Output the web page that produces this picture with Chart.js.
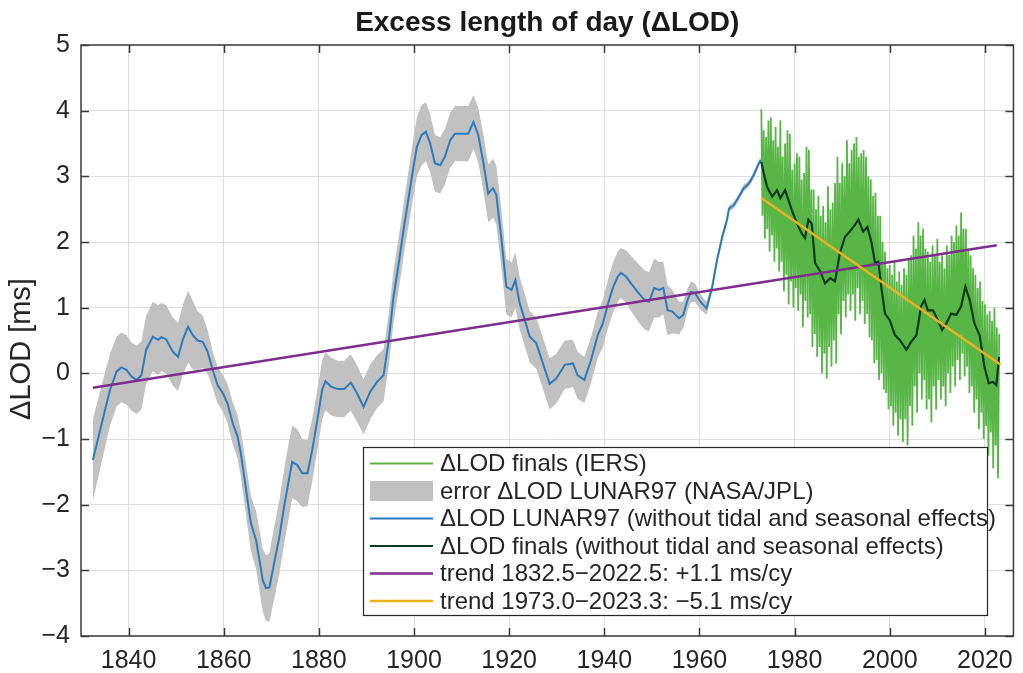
<!DOCTYPE html>
<html><head><meta charset="utf-8">
<script src="https://cdn.jsdelivr.net/npm/chart.js@4.4.0/dist/chart.umd.min.js"></script>
<style>html,body{margin:0;padding:0;background:#fff;}</style>
</head><body>
<canvas id="c" width="1023" height="673"></canvas>
<script>
// ---- Data ----
const lunarYears = [1832.5,1834.7,1836.1,1837.5,1838.5,1839.6,1840.6,1841.7,1842.7,1843.7,1845.1,1846.2,1846.9,1847.9,1849.3,1850.4,1851.4,1852.5,1853.5,1854.5,1855.6,1856.6,1857.7,1858.7,1859.8,1860.8,1861.9,1862.9,1863.6,1864.3,1865.0,1865.7,1866.8,1867.5,1868.2,1868.9,1869.6,1870.6,1871.7,1872.7,1873.7,1874.4,1875.5,1876.5,1877.6,1878.6,1879.7,1880.7,1881.4,1882.5,1883.9,1885.3,1886.7,1888.0,1889.4,1890.8,1892.2,1893.6,1894.7,1895.7,1896.8,1897.8,1898.9,1899.9,1900.6,1901.6,1902.5,1903.4,1904.4,1905.5,1906.5,1907.6,1908.6,1910.0,1911.4,1912.5,1913.5,1914.6,1915.6,1916.6,1917.3,1918.4,1919.4,1920.5,1921.3,1922.2,1923.3,1924.3,1925.7,1927.1,1928.5,1929.9,1931.7,1933.4,1934.4,1935.8,1937.2,1938.6,1939.7,1940.7,1941.8,1942.8,1943.5,1944.6,1945.6,1947.0,1948.4,1949.4,1950.5,1951.5,1952.4,1953.3,1954.3,1955.7,1956.6,1957.5,1958.2,1959.0,1960.2,1961.5,1962.7,1963.7,1964.8,1965.8,1966.2,1967.2,1968.3,1969.3,1970.4,1971.4,1972.5,1972.9];
const lunarValues = [-1.32,-0.66,-0.25,0.03,0.09,0.05,-0.05,-0.10,-0.03,0.36,0.56,0.51,0.55,0.52,0.33,0.25,0.51,0.71,0.58,0.50,0.48,0.33,0.05,-0.18,-0.30,-0.46,-0.76,-0.96,-1.22,-1.57,-1.93,-2.28,-2.54,-2.84,-3.15,-3.27,-3.26,-2.89,-2.49,-2.03,-1.62,-1.35,-1.40,-1.52,-1.52,-1.17,-0.70,-0.25,-0.12,-0.20,-0.24,-0.24,-0.14,-0.30,-0.51,-0.28,-0.13,-0.03,0.51,1.17,1.68,2.18,2.69,3.15,3.45,3.63,3.68,3.50,3.20,3.17,3.30,3.55,3.65,3.65,3.65,3.83,3.63,3.20,2.74,2.82,2.72,2.03,1.32,1.27,1.42,1.07,0.81,0.56,0.46,0.15,-0.16,-0.08,0.13,0.15,-0.03,-0.10,0.20,0.58,0.76,1.04,1.30,1.47,1.53,1.47,1.37,1.24,1.12,1.09,1.30,1.27,1.30,0.96,0.94,0.84,0.89,1.12,1.24,1.23,1.09,0.99,1.32,1.73,2.08,2.34,2.51,2.56,2.69,2.82,2.89,3.02,3.20,3.25];
const lunarErrors = [0.62,0.58,0.55,0.53,0.53,0.53,0.52,0.52,0.52,0.52,0.53,0.53,0.52,0.52,0.52,0.52,0.53,0.55,0.52,0.45,0.40,0.33,0.28,0.28,0.28,0.30,0.32,0.33,0.35,0.38,0.40,0.42,0.44,0.46,0.48,0.50,0.52,0.55,0.56,0.57,0.57,0.55,0.55,0.52,0.50,0.48,0.46,0.45,0.44,0.44,0.43,0.43,0.43,0.43,0.42,0.42,0.40,0.40,0.40,0.40,0.40,0.40,0.42,0.44,0.45,0.46,0.45,0.44,0.43,0.43,0.42,0.42,0.42,0.42,0.42,0.41,0.42,0.43,0.44,0.45,0.45,0.44,0.42,0.42,0.42,0.40,0.40,0.39,0.39,0.39,0.39,0.38,0.37,0.36,0.36,0.35,0.35,0.35,0.36,0.37,0.38,0.38,0.38,0.40,0.42,0.44,0.45,0.45,0.45,0.42,0.40,0.38,0.33,0.25,0.20,0.17,0.16,0.14,0.12,0.10,0.08,0.07,0.06,0.06,0.05,0.05,0.05,0.05,0.05,0.05,0.05,0.05];

// IERS finals: per year, four readings (at .00, .25, .50, .75 of the year)
const finalsYears = [1973,1974,1975,1976,1977,1978,1979,1980,1981,1982,1983,1984,1985,1986,1987,1988,1989,1990,1991,1992,1993,1994,1995,1996,1997,1998,1999,2000,2001,2002,2003,2004,2005,2006,2007,2008,2009,2010,2011,2012,2013,2014,2015,2016,2017,2018,2019,2020,2021,2022];
const finalsPeakA = [4.02,3.60,3.90,3.75,3.85,3.50,3.65,3.20,3.30,3.05,3.40,2.80,2.70,2.55,2.85,2.60,3.30,3.20,3.55,3.40,3.60,3.35,3.30,2.95,2.75,2.40,1.85,1.65,1.70,1.55,1.60,1.75,2.10,2.30,2.20,1.85,1.95,2.05,1.80,1.95,2.10,2.25,2.45,2.20,1.80,1.50,1.40,1.05,0.95,1.00];
const finalsDipA  = [2.40,2.20,2.10,1.90,1.70,1.50,1.40,1.30,1.20,1.10,0.90,0.60,0.40,0.30,0.40,0.50,0.90,1.10,1.20,1.20,1.30,1.10,0.90,0.50,0.20,0.00,-0.30,-0.50,-0.60,-0.70,-0.70,-0.50,-0.20,0.00,-0.10,-0.40,-0.20,-0.10,-0.20,0.00,0.10,0.20,0.30,0.10,-0.20,-0.40,-0.60,-0.80,-0.90,-1.10];
const finalsPeakB = [3.70,3.85,3.55,3.45,3.30,3.70,3.10,3.35,2.95,3.45,2.80,2.50,2.40,2.30,2.50,2.90,2.90,3.00,3.20,3.50,3.30,3.40,3.00,2.70,2.40,2.00,1.60,1.50,1.40,1.35,1.50,1.80,1.90,2.10,1.90,1.70,1.80,1.70,1.60,1.80,2.00,2.10,2.20,1.90,1.60,1.30,1.10,0.90,0.80,0.70];
const finalsDipB  = [2.05,1.85,1.70,1.55,1.25,1.05,1.00,0.95,0.70,0.85,0.40,0.25,0.00,-0.08,0.10,0.15,0.60,0.85,0.95,0.80,0.90,0.75,0.55,0.15,-0.10,-0.25,-0.55,-0.80,-0.95,-1.05,-1.10,-0.80,-0.60,-0.40,-0.55,-0.75,-0.55,-0.40,-0.50,-0.30,-0.20,-0.10,-0.05,-0.30,-0.60,-0.85,-1.00,-1.25,-1.45,-1.60];
const finalsEnd = {year: 2023.0, value: 0.60};

const smoothYears = [1973.0,1973.5,1974.2,1975.3,1976.3,1977.0,1978.0,1978.7,1979.4,1980.5,1981.5,1982.2,1982.9,1983.6,1984.3,1985.4,1986.4,1987.5,1988.5,1989.5,1990.6,1991.6,1992.7,1993.4,1994.4,1995.3,1996.2,1996.9,1997.6,1998.3,1999.0,2000.0,2001.1,2002.1,2003.5,2004.5,2005.6,2006.6,2007.3,2008.0,2009.1,2010.1,2011.0,2011.9,2012.9,2014.0,2015.0,2015.9,2016.8,2017.8,2018.9,2019.9,2020.8,2021.7,2022.4,2023.0];
const smoothValues = [3.22,3.05,2.84,2.69,2.79,2.67,2.79,2.64,2.49,2.28,2.13,2.06,2.34,2.28,1.68,1.55,1.37,1.45,1.40,1.83,2.08,2.16,2.26,2.34,2.16,2.23,1.98,1.68,1.70,1.27,0.91,0.81,0.58,0.51,0.36,0.48,0.58,1.02,1.12,0.96,0.96,0.81,0.66,0.76,0.91,0.89,1.02,1.32,1.12,0.76,0.58,0.10,-0.15,-0.13,-0.18,0.25];

const trendLongYears = [1832.5, 2022.5];
const trendLongValues = [-0.22, 1.95];
const trendShortYears = [1973.0, 2023.3];
const trendShortValues = [2.67, 0.13];

const xTickValues = [1840,1860,1880,1900,1920,1940,1960,1980,2000,2020];
const yTickValues = [-4,-3,-2,-1,0,1,2,3,4,5];

const labels = {
  finals: 'ΔLOD finals (IERS)',
  error: 'error ΔLOD LUNAR97 (NASA/JPL)',
  lunar: 'ΔLOD LUNAR97 (without tidal and seasonal effects)',
  smooth: 'ΔLOD finals (without tidal and seasonal effects)',
  trendLong: 'trend 1832.5−2022.5: +1.1 ms/cy',
  trendShort: 'trend 1973.0−2023.3: −5.1 ms/cy'
};
const titleText = 'Excess length of day (ΔLOD)';
const yTitleText = 'ΔLOD [ms]';

// ---- helpers ----
const pts = (xs, ys) => xs.map((x, i) => ({x: x, y: ys[i]}));
const FONT = "'Liberation Sans', Arial, Helvetica, sans-serif";
const TXT = '#262626';

const finalsPoints = [];
finalsYears.forEach((yr, i) => {
  finalsPoints.push({x: yr, y: finalsPeakA[i]});
  finalsPoints.push({x: yr + 0.25, y: finalsDipA[i]});
  finalsPoints.push({x: yr + 0.5, y: finalsPeakB[i]});
  finalsPoints.push({x: yr + 0.75, y: finalsDipB[i]});
});
finalsPoints.push({x: finalsEnd.year, y: finalsEnd.value});

const bandUpper = lunarValues.map((v, i) => v + lunarErrors[i]);
const bandLower = lunarValues.map((v, i) => v - lunarErrors[i]);

const framePlugin = {
  id: 'frame',
  afterDatasetsDraw(chart) {
    const {ctx, chartArea: a, scales: {x, y}} = chart;
    ctx.save();
    ctx.strokeStyle = '#3a3a3a';
    ctx.lineWidth = 1.5;
    const L = 8;
    ctx.beginPath();
    xTickValues.forEach(v => {
      const px = Math.round(x.getPixelForValue(v)) + 0.5;
      ctx.moveTo(px, a.bottom); ctx.lineTo(px, a.bottom - L);
      ctx.moveTo(px, a.top); ctx.lineTo(px, a.top + L);
    });
    yTickValues.forEach(v => {
      const py = Math.round(y.getPixelForValue(v)) + 0.5;
      ctx.moveTo(a.left, py); ctx.lineTo(a.left + L, py);
      ctx.moveTo(a.right, py); ctx.lineTo(a.right - L, py);
    });
    ctx.stroke();
    ctx.strokeRect(a.left, a.top, a.right - a.left, a.bottom - a.top);
    // y axis title
    ctx.translate(22, 349);
    ctx.rotate(-Math.PI / 2);
    ctx.fillStyle = TXT;
    ctx.font = '29px ' + FONT;
    ctx.textAlign = 'center';
    ctx.textBaseline = 'middle';
    ctx.fillText(yTitleText, 0, 0);
    ctx.restore();
  }
};

const legendPlugin = {
  id: 'boxLegend',
  afterDraw(chart) {
    const ctx = chart.ctx;
    const ds = chart.data.datasets.filter(d => d.showInLegend);
    const bx = 363, by = 447, bw = 624, bh = 168;
    ctx.save();
    ctx.fillStyle = '#ffffff';
    ctx.fillRect(bx, by, bw, bh);
    ctx.strokeStyle = '#262626';
    ctx.lineWidth = 1.2;
    ctx.strokeRect(bx + 0.5, by + 0.5, bw, bh);
    ctx.font = '24px ' + FONT;
    ctx.textBaseline = 'middle';
    ds.forEach((d, i) => {
      const cy = 463.5 + i * 27.5;
      if (d.legendBox) {
        ctx.fillStyle = d.backgroundColor;
        ctx.fillRect(370, cy - 10, 63, 20);
      } else {
        ctx.strokeStyle = d.borderColor;
        ctx.lineWidth = d.legendWidth || d.borderWidth;
        ctx.beginPath(); ctx.moveTo(370, cy); ctx.lineTo(433, cy); ctx.stroke();
      }
      ctx.fillStyle = TXT;
      ctx.fillText(d.label, 440, cy + 1);
    });
    ctx.restore();
  }
};

const lineDs = (label, data, color, width, order, extra) => Object.assign({
  label: label, data: data, borderColor: color, backgroundColor: color,
  borderWidth: width, pointRadius: 0, tension: 0, fill: false, order: order, showInLegend: true
}, extra || {});

new Chart(document.getElementById('c'), {
  type: 'line',
  data: {
    datasets: [
      lineDs(labels.finals, finalsPoints, '#58b646', 1.8, 4, {legendWidth: 1.8}),
      {label: labels.error, data: pts(lunarYears, bandUpper), borderWidth: 0, borderColor: 'rgba(0,0,0,0)',
       backgroundColor: '#c1c1c1', pointRadius: 0, fill: '+1', order: 7, showInLegend: true, legendBox: true},
      {label: 'band lower', data: pts(lunarYears, bandLower), borderWidth: 0, borderColor: 'rgba(0,0,0,0)',
       backgroundColor: '#c1c1c1', pointRadius: 0, fill: false, order: 7, showInLegend: false},
      lineDs(labels.lunar, pts(lunarYears, lunarValues), '#2b7bbf', 2, 5),
      lineDs(labels.smooth, pts(smoothYears, smoothValues), '#0d3a1c', 2.2, 3),
      lineDs(labels.trendLong, pts(trendLongYears, trendLongValues), '#7e2f8e', 2.5, 2),
      lineDs(labels.trendShort, pts(trendShortYears, trendShortValues), '#edb120', 2.5, 1)
    ]
  },
  options: {
    responsive: false,
    animation: false,
    devicePixelRatio: 1,
    layout: {padding: {left: 0, right: 6, top: 0, bottom: 0}},
    plugins: {
      legend: {display: false},
      tooltip: {enabled: false},
      title: {
        display: true,
        fullSize: false,
        text: titleText,
        color: '#1a1a1a',
        font: {family: FONT, size: 28, weight: 'bold', lineHeight: 1.2},
        padding: {top: 6, bottom: 5.4}
      }
    },
    scales: {
      x: {
        type: 'linear', min: 1830, max: 2026,
        afterBuildTicks: s => { s.ticks = xTickValues.map(v => ({value: v})); },
        afterFit: s => { s.height = 37; },
        grid: {color: '#dedede', lineWidth: 1, drawTicks: false},
        border: {display: false},
        ticks: {color: TXT, font: {family: FONT, size: 25}, padding: 10, maxRotation: 0,
                callback: v => String(v)}
      },
      y: {
        type: 'linear', min: -4, max: 5,
        afterBuildTicks: s => { s.ticks = yTickValues.map(v => ({value: v})); },
        afterFit: s => { s.width = 81; },
        grid: {color: '#dedede', lineWidth: 1, drawTicks: false},
        border: {display: false},
        ticks: {color: TXT, font: {family: FONT, size: 25}, padding: 11,
                callback: v => String(v).replace('-', '−')}
      }
    }
  },
  plugins: [framePlugin, legendPlugin]
});
</script>
</body></html>
